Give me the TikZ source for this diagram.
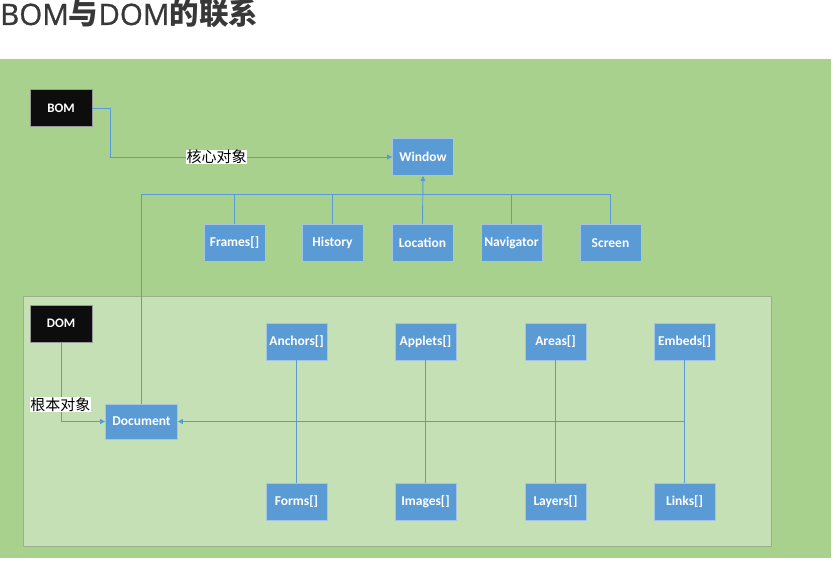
\documentclass[tikz,border=0pt]{standalone}
\usepackage{fontspec}
\setmainfont{Carlito}
\newfontfamily\cjk{Noto Sans CJK SC}
\newfontfamily\ttlat[FakeBold=0.9]{Open Sans}
\usetikzlibrary{arrows.meta}
\definecolor{outerg}{HTML}{A9D18E}
\definecolor{innerg}{HTML}{C5E0B4}
\definecolor{boxb}{HTML}{5B9BD5}
\definecolor{boxedge}{HTML}{A6C4E4}
\definecolor{linec}{HTML}{5B9BD5}
\definecolor{titlec}{HTML}{383838}
\tikzset{
  obj/.style={fill=boxb, draw=boxedge, line width=0.8pt, text=white, minimum width=61pt, minimum height=37pt, inner sep=0pt, font=\bfseries\fontsize{13.5}{16}\selectfont},
  blk/.style={fill=black!95, draw=black!40, line width=0.8pt, text=white, minimum width=62pt, minimum height=37pt, inner sep=0pt, font=\bfseries\fontsize{13}{16}\selectfont},
  conn/.style={draw=linec, line width=0.9pt},
  arr/.style={conn, -{Triangle[width=5pt,length=5pt]}},
  lbl/.style={fill=white, inner sep=0.5pt, text=black, font=\cjk\fontsize{15}{18}\selectfont}
}
\begin{document}
\begin{tikzpicture}[x=1pt,y=-1pt]
\useasboundingbox (0,0) rectangle (836,561);
% backgrounds
\fill[outerg] (0,59) rectangle (831,558);
\draw[fill=innerg, draw=black!22!innerg, line width=1pt] (23,297) rectangle (771,546);
% title
\node[anchor=base west, inner sep=0pt, text=titlec, font=\fontsize{29.5}{32}\selectfont] (title) at (0,25) {{\ttlat BOM}{\cjk\bfseries 与}{\ttlat DOM}{\cjk\bfseries 的联系}};
% nodes
\node[blk] (bom) at (61,108) {BOM};
\node[obj] (win) at (423,157) {Window};
\node[obj] (frames) at (234.5,243) {Frames[]};
\node[obj] (hist) at (332.5,243) {History};
\node[obj] (loc) at (422.5,243) {Location};
\node[obj] (nav) at (511.5,243) {Navigator};
\node[obj] (scr) at (610.5,243) {Screen};
\node[blk] (dom) at (61,323.5) {DOM};
\node[obj, minimum width=72pt, minimum height=35pt] (doc) at (141.5,421.5) {Document};
\node[obj] (anc) at (296.5,341.5) {Anchors[]};
\node[obj] (app) at (425.5,341.5) {Applets[]};
\node[obj] (are) at (555.5,341.5) {Areas[]};
\node[obj] (emb) at (684.5,341.5) {Embeds[]};
\node[obj] (frm) at (296.5,502) {Forms[]};
\node[obj] (img) at (425.5,502) {Images[]};
\node[obj] (lay) at (555.5,502) {Layers[]};
\node[obj] (lnk) at (684.5,502) {Links[]};
\coordinate (busy) at (0,194);
\coordinate (bomx) at (110,0);
% BOM -> Window
\draw[arr] (bom.east) -- (bom.east -| bomx) |- (win.west);
\node[lbl] (l1) at (216.5,157) {核心对象};
% BOM children bus
\draw[conn] (doc.north) -- (doc.north |- busy) -- (busy -| scr.north) -- (scr.north);
\draw[conn] (frames.north) -- (frames.north |- busy);
\draw[conn] (hist.north) -- (hist.north |- busy);
\draw[conn] (nav.north) -- (nav.north |- busy);
\draw[arr] (loc.north) -- (win.south);
% DOM -> Document
\draw[arr] (dom.south) |- (doc.west);
\node[lbl] (l2) at (60.5,404.5) {根本对象};
% DOM children
\draw[conn] (anc.south) -- (frm.north);
\draw[conn] (app.south) -- (img.north);
\draw[conn] (are.south) -- (lay.north);
\draw[conn] (emb.south) -- (lnk.north);
\draw[arr] (emb.south |- doc.east) -- (doc.east);
\end{tikzpicture}
\end{document}
